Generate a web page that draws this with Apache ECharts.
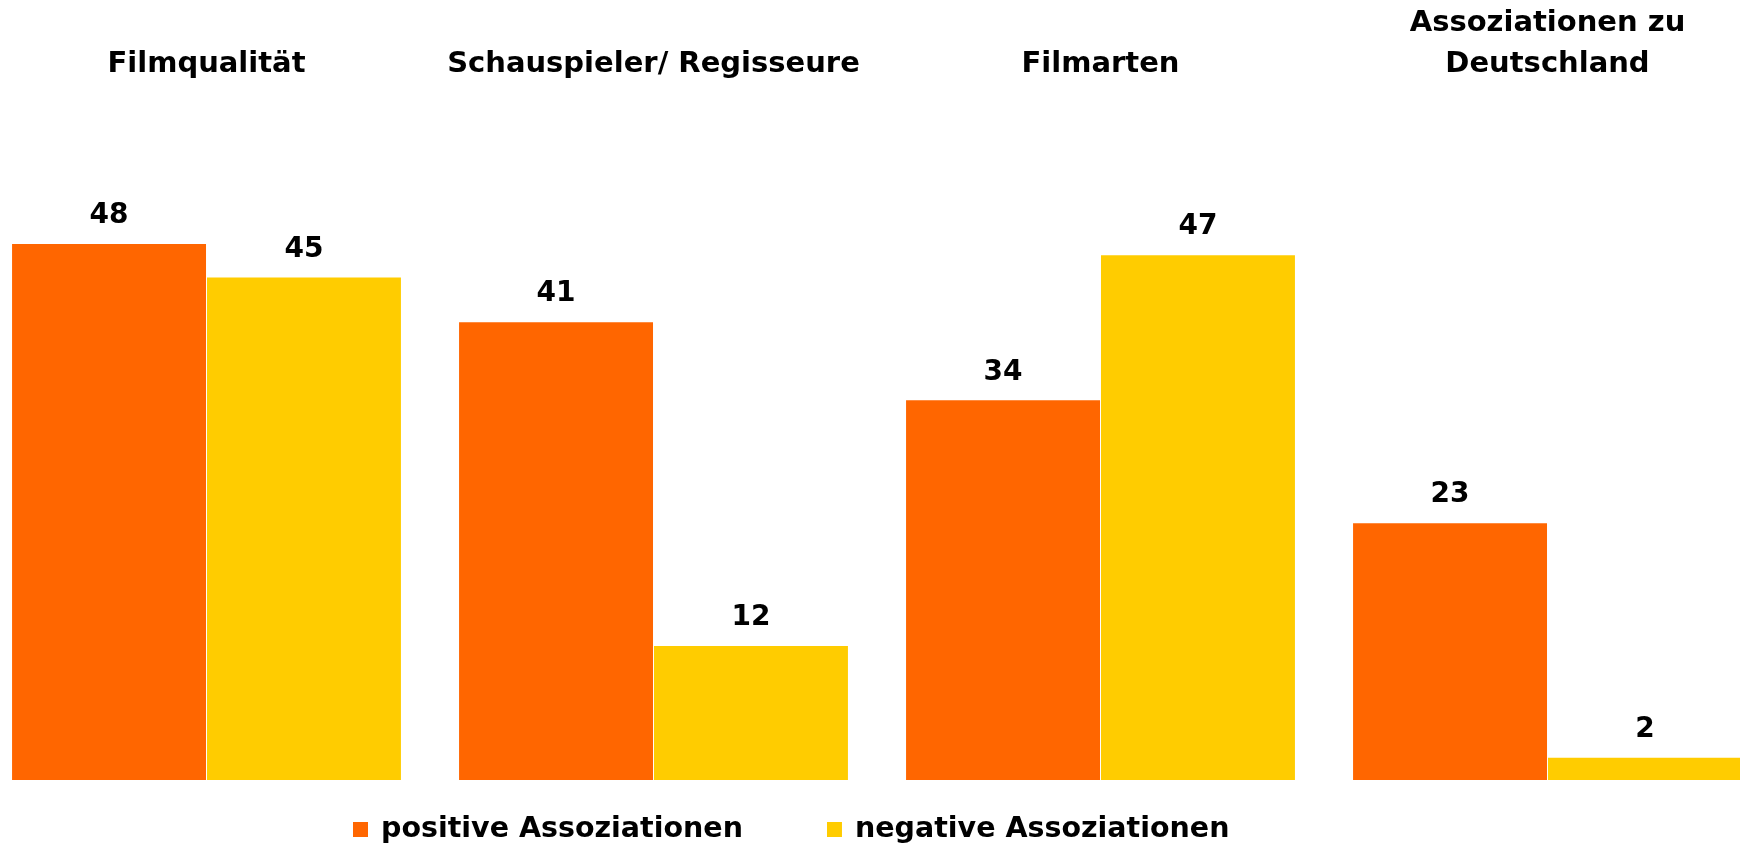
<!DOCTYPE html>
<html>
<head>
<meta charset="utf-8">
<script src="https://cdn.jsdelivr.net/npm/echarts@6/dist/echarts.min.js"></script>
<style>
  html, body { margin: 0; padding: 0; background: #fff; overflow: hidden; }
  #chart { width: 1788px; height: 849px; margin-left: -17px; }
</style>
</head>
<body>
<div id="chart"></div>
<script>
// Kategorien und Werte
let categories = ['Filmqualität', 'Schauspieler/ Regisseure', 'Filmarten', 'Assoziationen zu\nDeutschland'];
let positive = [48, 41, 34, 23];
let negative = [45, 12, 47, 2];
let seriesNames = ['positive Assoziationen', 'negative Assoziationen'];

let font = 'DejaVu Sans';
let myChart = echarts.init(document.getElementById('chart'));
let labelStyle = {
    show: true,
    position: 'top',
    distance: 14,
    color: '#000',
    fontFamily: font,
    fontWeight: 'bold',
    fontSize: 28
};
let option = {
    animation: false,
    grid: {
        left: 0,
        right: 0,
        top: 110,
        bottom: 69,
        containLabel: false
    },
    legend: {
        bottom: 0,
        left: 365,
        itemWidth: 15,
        itemHeight: 15,
        itemGap: 84,
        icon: 'rect',
        textStyle: {
            fontFamily: font,
            fontWeight: 'bold',
            fontSize: 28.5,
            color: '#000',
            padding: [0, 0, 0, 8]
        },
        data: seriesNames
    },
    xAxis: {
        type: 'category',
        position: 'top',
        data: categories,
        axisLine: { show: false },
        axisTick: { show: false },
        axisLabel: {
            margin: 25,
            interval: 0,
            color: '#000',
            fontFamily: font,
            fontWeight: 'bold',
            fontSize: 29,
            lineHeight: 41
        }
    },
    yAxis: {
        type: 'value',
        min: 0,
        max: 60,
        show: false
    },
    series: [
        {
            name: seriesNames[0],
            type: 'bar',
            data: positive,
            barGap: '0.5%',
            barCategoryGap: '13%',
            itemStyle: { color: '#FF6600' },
            label: labelStyle
        },
        {
            name: seriesNames[1],
            type: 'bar',
            data: negative,
            itemStyle: { color: '#FFCC00' },
            label: labelStyle
        }
    ]
};
myChart.setOption(option);
</script>
</body>
</html>
